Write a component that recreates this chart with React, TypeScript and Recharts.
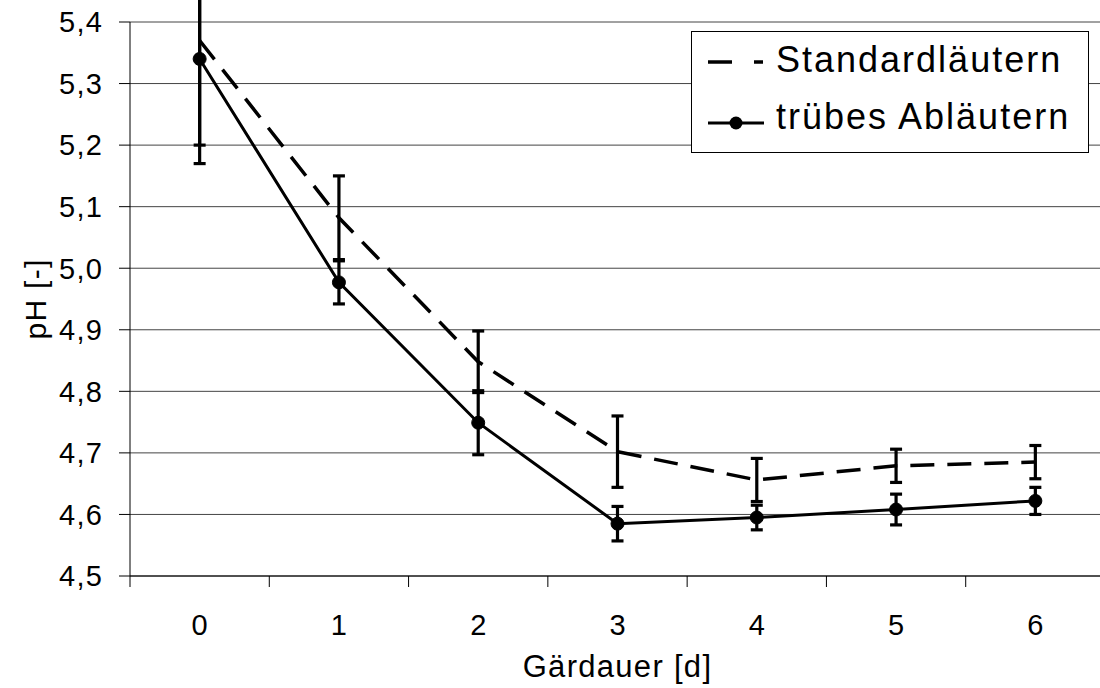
import React from "react";
import {
  LineChart,
  Line,
  XAxis,
  YAxis,
  CartesianGrid,
  ErrorBar,
  Legend,
  Label,
} from "recharts";

// Gärdauer in Tagen
const days = [0, 1, 2, 3, 4, 5, 6];

// pH-Mittelwerte und Standardabweichungen
const standard = [5.37, 5.082, 4.848, 4.702, 4.656, 4.679, 4.685];
const standardErr = [0.17, 0.068, 0.05, 0.058, 0.035, 0.027, 0.027];
const trueb = [5.34, 4.977, 4.749, 4.585, 4.595, 4.608, 4.622];
const truebErr = [0.17, 0.035, 0.052, 0.028, 0.02, 0.025, 0.022];

const yTicks = [4.5, 4.6, 4.7, 4.8, 4.9, 5.0, 5.1, 5.2, 5.3, 5.4];

const FONT = '"Liberation Sans", Arial, Helvetica, sans-serif';

const data = days.map((d, i) => ({
  day: d,
  standard: standard[i],
  standardErr: standardErr[i],
  trueb: trueb[i],
  truebErr: truebErr[i],
}));

// boundaries get a tick line, centres get the label
const xTicks = days.flatMap((d) => [d - 0.5, d]).concat(days[days.length - 1] + 0.5);

function DayTick(props: any) {
  const { x, y, payload } = props;
  const v = payload.value;
  if (Number.isInteger(v)) {
    return (
      <text
        x={x}
        y={y + 48}
        textAnchor="middle"
        fontSize={29}
        fill="#000"
        fontFamily={FONT}
      >
        {v}
      </text>
    );
  }
  return <line x1={x} x2={x} y1={y - 11} y2={y} stroke="#000" strokeWidth={1} />;
}

function YTitle(props: any) {
  const { viewBox } = props;
  const cx = 35;
  const cy = viewBox.y + viewBox.height / 2;
  return (
    <text
      x={cx}
      y={cy}
      transform={`rotate(-90 ${cx} ${cy})`}
      textAnchor="middle"
      dy="0.355em"
      fontSize={30}
      letterSpacing={1.3}
      fill="#000"
      fontFamily={FONT}
    >
      pH [-]
    </text>
  );
}

function LegendBox() {
  return (
    <svg width={398} height={122} style={{ display: "block" }}>
      <rect x={0.5} y={0.5} width={397} height={121} fill="#fff" stroke="#000" strokeWidth={1} />
      <line x1={17} x2={41} y1={31} y2={31} stroke="#000" strokeWidth={3.5} />
      <line x1={63} x2={72} y1={31} y2={31} stroke="#000" strokeWidth={3.5} />
      <text x={85} y={41} fontSize={36} letterSpacing={2} fill="#000" fontFamily={FONT}>
        Standardläutern
      </text>
      <line x1={17} x2={73} y1={92} y2={92} stroke="#000" strokeWidth={3} />
      <circle cx={45} cy={92} r={6.5} fill="#000" />
      <text x={85} y={98} fontSize={36} letterSpacing={2} fill="#000" fontFamily={FONT}>
        trübes Abläutern
      </text>
    </svg>
  );
}

export default function App() {
  return (
    <div
      style={{
        position: "absolute",
        left: 0,
        top: 0,
        width: 1100,
        height: 688,
        overflow: "hidden",
        background: "#fff",
      }}
    >
      <LineChart
        width={1105}
        height={688}
        data={data}
        margin={{ top: 22, right: 0, bottom: 0, left: 0 }}
      >
        <CartesianGrid vertical={false} stroke="#444" strokeWidth={1} />
        <XAxis
          dataKey="day"
          type="number"
          domain={[-0.5, 6.5]}
          ticks={xTicks}
          interval={0}
          height={112}
          tickSize={11}
          tickMargin={0}
          tickLine={false}
          tick={<DayTick />}
          axisLine={{ stroke: "#000", strokeWidth: 1 }}
        >
          <Label
            value="Gärdauer [d]"
            position="insideBottom"
            offset={11}
            style={{ fontSize: 31, letterSpacing: 1.3, fill: "#000", fontFamily: FONT }}
          />
        </XAxis>
        <YAxis
          domain={[4.5, 5.4]}
          ticks={yTicks}
          allowDataOverflow
          width={130}
          tickSize={11}
          tickMargin={16}
          interval={0}
          tickFormatter={(v: number) => v.toFixed(1).replace(".", ",")}
          tick={{ fontSize: 29, letterSpacing: 1.2, fill: "#000", fontFamily: FONT }}
          axisLine={{ stroke: "#000", strokeWidth: 1 }}
          tickLine={{ stroke: "#000", strokeWidth: 1 }}
        >
          <Label content={<YTitle />} />
        </YAxis>
        <Legend
          layout="vertical"
          align="center"
          verticalAlign="middle"
          content={() => <LegendBox />}
          wrapperStyle={{ top: 31, left: 691, width: 398, height: 122 }}
        />
        <Line
          type="linear"
          dataKey="standard"
          name="Standardläutern"
          stroke="#000"
          strokeWidth={3.5}
          strokeDasharray="24 13"
          dot={false}
          activeDot={false}
          isAnimationActive={false}
        >
          <ErrorBar dataKey="standardErr" width={6} stroke="#000" strokeWidth={3.2} />
        </Line>
        <Line
          type="linear"
          dataKey="trueb"
          name="trübes Abläutern"
          stroke="#000"
          strokeWidth={3}
          dot={{ r: 6.5, fill: "#000", stroke: "#000", strokeWidth: 1 }}
          activeDot={false}
          isAnimationActive={false}
        >
          <ErrorBar dataKey="truebErr" width={6} stroke="#000" strokeWidth={3.2} />
        </Line>
      </LineChart>
    </div>
  );
}
